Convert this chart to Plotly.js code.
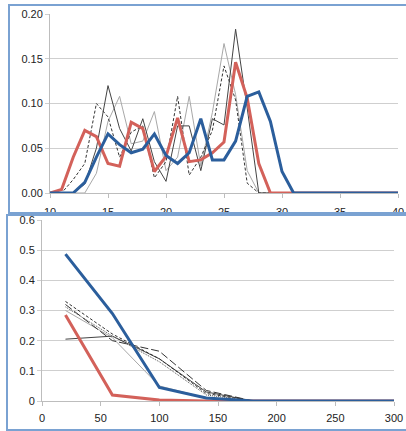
<!DOCTYPE html>
<html>
<head>
<meta charset="utf-8">
<script src="https://cdn.plot.ly/plotly-3.0.1.min.js"></script>
<style>
  html, body { margin: 0; padding: 0; background: #fff; width: 406px; height: 431px; overflow: hidden; }
  #top, #bottom { position: absolute; left: 0; width: 406px; }
  #top { top: 0; height: 213px; }
  #bottom { top: 213px; height: 218px; }
  .frame { position: absolute; border: 2px solid #7aa2d2; box-sizing: border-box; pointer-events: none; }
</style>
</head>
<body>
<div id="top"></div>
<div id="bottom"></div>
<div class="frame" style="left:8px; top:4px; width:410px; height:210px;"></div>
<div class="frame" style="left:6px; top:214px; width:412px; height:217px;"></div>
<script>
// ---- upper panel: size distributions ----
const sizeX = [10,11,12,13,14,15,16,17,18,19,20,21,22,23,24,25,26,27,28,29,30,31,32,33,34,35,36,37,38,39,40];
const sizeRed  = [0,0.004,0.040,0.070,0.063,0.033,0.030,0.079,0.072,0.024,0.041,0.084,0.035,0.037,0.045,0.057,0.146,0.106,0.033,0,0,0,0,0,0,0,0,0,0,0,0];
const sizeBlue = [0,0,0,0.012,0.040,0.066,0.054,0.045,0.049,0.066,0.042,0.033,0.045,0.083,0.037,0.037,0.058,0.108,0.113,0.080,0.024,0,0,0,0,0,0,0,0,0,0];
const sizeDark = [0,0,0,0.010,0.050,0.120,0.072,0.047,0.083,0.035,0.013,0.075,0.075,0.025,0.083,0.076,0.183,0.095,0,0,0,0,0,0,0,0,0,0,0,0,0];
const sizeDash = [0,0,0.015,0.033,0.100,0.085,0.040,0.068,0.075,0.017,0.035,0.108,0.020,0.040,0.070,0.142,0.104,0.011,0,0,0,0,0,0,0,0,0,0,0,0,0];
const sizeGray = [0,0,0,0,0.022,0.080,0.108,0.055,0.058,0.091,0.025,0.040,0.108,0.030,0.090,0.167,0.110,0.025,0,0,0,0,0,0,0,0,0,0,0,0,0];

// ---- lower panel: decay curves ----
const timeX = [20,60,100,140,180,220,260,300];
const decayBlue  = [0.487,0.290,0.045,0.010,0,0,0,0];
const decayRed   = [0.285,0.020,0.003,0,0,0,0,0];
const decayFlat  = [0.205,0.215,0.140,0.030,0,0,0,0];
const decayLong  = [0.320,0.200,0.165,0.035,0,0,0,0];
const decayShort = [0.330,0.222,0.140,0.025,0,0,0,0];
const decayGray  = [0.300,0.210,0.050,0.010,0,0,0,0];
const decayDot   = [0.312,0.215,0.130,0.020,0,0,0,0];

const RED = '#d3615a', BLUE = '#2b5e9c', DARK = '#333333', GRAY = '#a8a8a8';
const tickFont = {family: 'Liberation Sans, Arial, sans-serif', size: 11, color: '#222'};

function line(x, y, color, width, dash) {
  return {x: x, y: y, type: 'scatter', mode: 'lines', hoverinfo: 'skip',
          line: {color: color, width: width, dash: dash || 'solid'}};
}

function axisX(range, dtick, standoff) {
  return {range: range, dtick: dtick, tick0: 0, showgrid: false, zeroline: false,
          showline: true, linecolor: '#bdbdbd', linewidth: 1,
          ticks: 'outside', ticklen: 4, tickcolor: '#bdbdbd', tickfont: tickFont,
          ticklabelstandoff: standoff, fixedrange: true};
}
function axisY(range, dtick, fmt) {
  return {range: range, dtick: dtick, tick0: 0, tickformat: fmt,
          showgrid: true, gridcolor: '#cfcfcf', gridwidth: 1, zeroline: false,
          showline: true, linecolor: '#bdbdbd', linewidth: 1,
          ticks: 'outside', ticklen: 4, tickcolor: '#cfcfcf', tickfont: tickFont,
          fixedrange: true};
}

const topTraces = [
  line(sizeX, sizeGray, GRAY, 1),
  line(sizeX, sizeDash, DARK, 1, '3px,2px'),
  line(sizeX, sizeDark, '#444', 1),
  line(sizeX, sizeRed, RED, 3),
  line(sizeX, sizeBlue, BLUE, 3)
];
Plotly.newPlot('top', topTraces, {
  width: 406, height: 213, showlegend: false,
  paper_bgcolor: '#fff', plot_bgcolor: '#fff',
  margin: {l: 50, r: 8, t: 14, b: 20},
  xaxis: axisX([10, 40], 5, 5),
  yaxis: axisY([0, 0.2], 0.05, '.2f')
}, {staticPlot: true});

const bottomTraces = [
  line(timeX, decayGray, GRAY, 1),
  line(timeX, decayFlat, '#444', 1),
  line(timeX, decayLong, DARK, 1, '8px,3px'),
  line(timeX, decayShort, DARK, 1, '3px,2px'),
  line(timeX, decayDot, '#555', 1, '1px,1px'),
  line(timeX, decayRed, RED, 3),
  line(timeX, decayBlue, BLUE, 3)
];
Plotly.newPlot('bottom', bottomTraces, {
  width: 406, height: 218, showlegend: false,
  paper_bgcolor: '#fff', plot_bgcolor: '#fff',
  margin: {l: 42, r: 12, t: 7, b: 30},
  xaxis: axisX([0, 300], 50, 3),
  yaxis: axisY([0, 0.6], 0.1, '')
}, {staticPlot: true});
</script>
</body>
</html>
